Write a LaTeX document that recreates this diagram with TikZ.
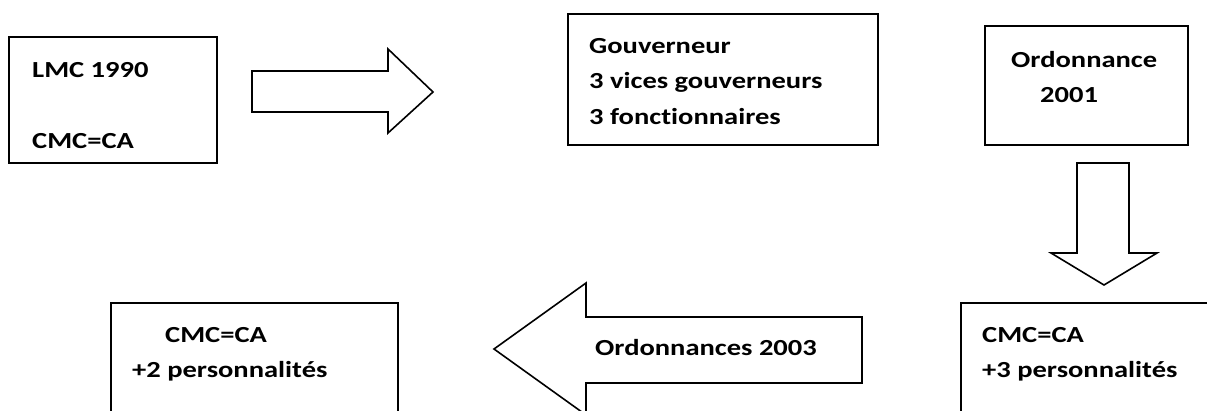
\documentclass[tikz,border=0pt]{standalone}
\usepackage{fontspec}
\setmainfont{Carlito}[FakeStretch=1.24,Ligatures=NoCommon]
\begin{document}
\begin{tikzpicture}[x=1pt,y=-1pt,
  box/.style={draw=black,line width=1.6pt,fill=white},
  blockarrow/.style={draw=black,line width=1.6pt,fill=white,line join=miter},
  txt/.style={anchor=base west,inner sep=0pt,font=\bfseries\fontsize{23}{28}\selectfont}]
\useasboundingbox (0,0) rectangle (1207,410);
\clip (0,0) rectangle (1207,410);

% boxes
\draw[box] (9,37) rectangle (217,163);
\draw[box] (568,14) rectangle (878,145);
\draw[box] (985,26) rectangle (1188,145);
\draw[box] (961,303) rectangle (1220,420);
\draw[box] (111,303) rectangle (398,420);

% box texts
\node[txt] (lmc) at (32,77) {LMC 1990};
\node[txt] (cmca) at (32,148) {CMC=CA};
\node[txt] (gouv1) at (589,53) {Gouverneur};
\node[txt] (gouv2) at (589,88.5) {3 vices gouverneurs};
\node[txt] (gouv3) at (589,124) {3 fonctionnaires};
\node[txt] (ord) at (1011,67) {Ordonnance};
\node[txt] (ordyear) at (1040,102) {2001};
\node[txt] (cmcb1) at (982,342) {CMC=CA};
\node[txt] (cmcb2) at (982,377) {+3 personnalités};
\node[txt] (cmcc) at (165,342) {CMC=CA};
\node[txt] (pers) at (132,377) {+2 personnalités};

% right arrow
\draw[blockarrow] (252,71) -- (388,71) -- (388,49) -- (433,92) -- (388,133)
  -- (388,112) -- (252,112) -- cycle;

% down arrow
\draw[blockarrow] (1077,163) -- (1129,163) -- (1129,253) -- (1157,253)
  -- (1104,285) -- (1051,253) -- (1077,253) -- cycle;

% left arrow with label
\draw[blockarrow] (862,317) -- (586,317) -- (586,283) -- (494,349) -- (586,415)
  -- (586,383) -- (862,383) -- cycle;
\node[txt] (ord03) at (595,355) {Ordonnances 2003};
\end{tikzpicture}
\end{document}
